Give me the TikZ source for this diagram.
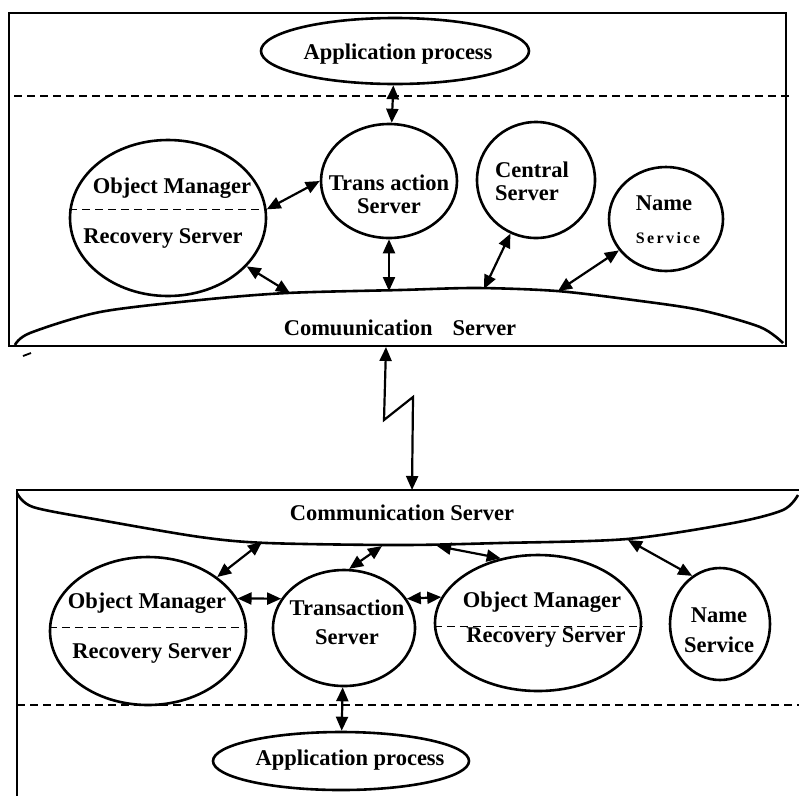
\documentclass[tikz,border=0pt]{standalone}
\usepackage{fontspec}
\setmainfont{Liberation Serif}
\newfontfamily\spacedfont[LetterSpace=15]{Liberation Serif}
\usetikzlibrary{arrows.meta, shapes.geometric}

\begin{document}
\begin{tikzpicture}[x=1pt, y=-1pt,
  blob/.style={draw, ellipse, line width=2.6pt, inner sep=0pt},
  lbl/.style={font=\fontsize{22.5}{23}\selectfont\bfseries, inner sep=0pt},
  dbl/.style={{Triangle[length=14pt,width=12pt]}-{Triangle[length=14pt,width=12pt]}, line width=2.2pt},
  sep/.style={dash pattern=on 8pt off 5pt, line width=1.1pt}]
  \useasboundingbox (0,0) rectangle (799,796);

  % Upper site
  \draw[line width=2.6pt] (9,13) rectangle (786,346);
  \draw[sep] (14,96) -- (790,96);
  \draw[line width=1.8pt] (23,356) -- (31,353);
  \draw[line width=2.6pt]
    plot[smooth] coordinates {
      (15,345)(30,333)(100,312)(200,300)(287,293)(400,290)(477,288)
      (557,291)(633,300)(700,310)(760,327)(783,343)
    };
  \coordinate (cT1) at (290,293);
  \coordinate (cT2) at (389,291);
  \coordinate (cT3) at (484,289);
  \coordinate (cT4) at (558,291);

  \node[blob, minimum width=268pt, minimum height=66pt] (appT) at (395,51) {};
  \node[blob, minimum width=136pt, minimum height=114pt] (transT) at (389,181) {};
  \node[blob, minimum width=196pt, minimum height=156pt] (objT) at (168,218) {};
  \node[blob, minimum width=118pt, minimum height=116pt] (centralT) at (536,180) {};
  \node[blob, minimum width=114pt, minimum height=104pt] (nameT) at (666,219) {};
  \draw[sep] (objT.175) -- (objT.5);

  \node[lbl] (appTtxt) at (398,54) {Application process};
  \node[lbl, align=center] (transTtxt) at (389,194) {Trans action\\Server};
  \node[lbl] (objTtxt) at (172,188) {Object Manager};
  \node[lbl] (recTtxt) at (163,238) {Recovery Server};
  \node[lbl, align=left] (centralTtxt) at (532,181) {Central\\Server};
  \node[lbl] (nameTtxt) at (664,203) {Name};
  \node[font=\fontsize{16}{18}\spacedfont\bfseries, inner sep=0pt] (servTtxt) at (668,238) {Service};
  \node[lbl] (commTtxt) at (400,328) {Comuunication\hspace{20pt}Server};

  \foreach \a/\b in {appT/transT, transT/cT2, objT/cT1, centralT/cT3, nameT/cT4}
    \draw[dbl] (\a) -- (\b);
  \draw[dbl] (objT.5) -- (transT.west);

  % Link
  \coordinate (lkA) at (386,347);
  \coordinate (lkB) at (412,490);
  \draw[dbl] (lkA) -- (384,420) -- (413,397) -- (lkB);

  % Lower site
  \draw[line width=2.6pt] (799,490) -- (17,490) -- (17,796);
  \draw[sep] (17,705) -- (799,705);
  \draw[line width=2.6pt]
    plot[smooth] coordinates {
      (17,493)(33,507)(100,520)(200,537)(267,543)(400,545)(500,543)
      (627,539)(733,523)(783,510)(798,495)
    };
  \coordinate (cB1) at (262,542);
  \coordinate (cB2) at (382,546);
  \coordinate (cB3) at (437,546);
  \coordinate (cB4) at (628,540);

  \node[blob, minimum width=196pt, minimum height=148pt] (objBL) at (148,631) {};
  \node[blob, minimum width=142pt, minimum height=116pt] (transB) at (344,628) {};
  \node[blob, minimum width=206pt, minimum height=136pt] (objBR) at (538,623) {};
  \node[blob, minimum width=100pt, minimum height=112pt] (nameB) at (720,624) {};
  \node[blob, minimum width=256pt, minimum height=58pt] (appB) at (341,761) {};
  \draw[sep] (objBL.178) -- (objBL.2);
  \draw[sep] (objBR.182) -- (objBR.358);

  \node[lbl] (commBtxt) at (402,513) {Communication Server};
  \node[lbl] (objBLtxt) at (147,603) {Object Manager};
  \node[lbl] (recBLtxt) at (152,653) {Recovery Server};
  \node[lbl, align=center] (transBtxt) at (347,622) {Transaction\\[6pt]Server};
  \node[lbl] (objBRtxt) at (542,602) {Object Manager};
  \node[lbl] (recBRtxt) at (546,637) {Recovery Server};
  \node[lbl, align=center] (nameBtxt) at (719,630) {Name\\[7pt]Service};
  \node[lbl] (appBtxt) at (350,760) {Application process};

  \draw[dbl] (cB1) -- (objBL);
  \draw[dbl] (cB2) -- (transB.85);
  \draw[dbl] (cB3) -- (objBR.120);
  \draw[dbl] (cB4) -- (nameB.120);
  \draw[dbl] (objBL.20) -- (transB.155);
  \draw[dbl] (transB.25) -- (objBR.165);
  \draw[dbl] (transB) -- (appB);
\end{tikzpicture}
\end{document}
